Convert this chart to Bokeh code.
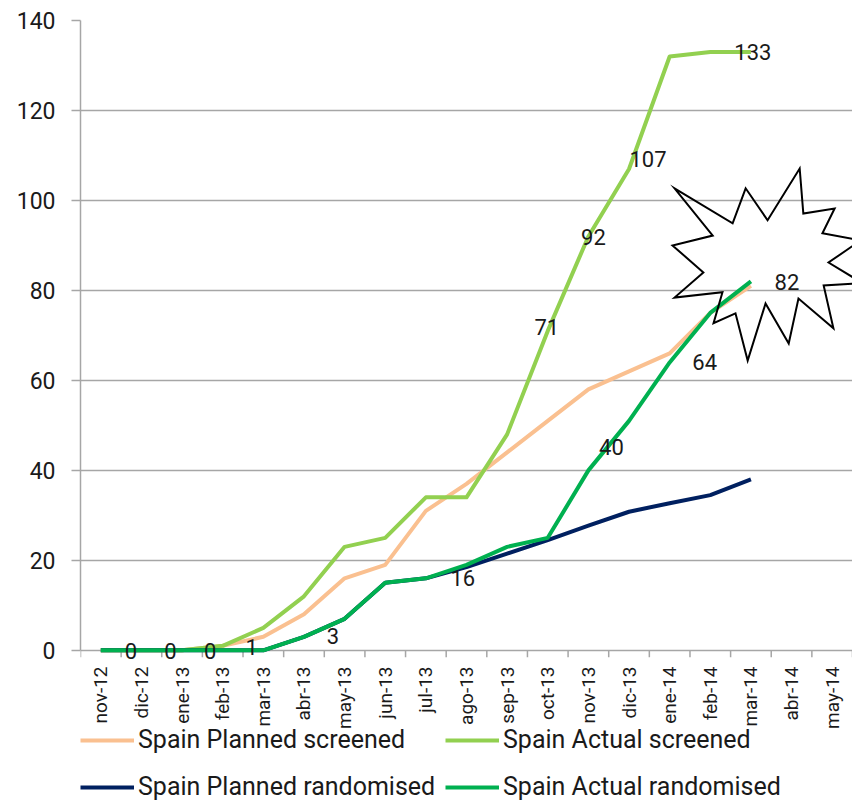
import numpy as np
from bokeh.plotting import figure
from bokeh.layouts import column
from bokeh.models import Range1d, FixedTicker, Legend, LegendItem, ColumnDataSource, LabelSet
from bokeh.core.properties import value
from bokeh.embed import file_html
from bokeh.resources import INLINE

# ---------------- data ----------------
months = ["nov-12", "dic-12", "ene-13", "feb-13", "mar-13", "abr-13", "may-13",
          "jun-13", "jul-13", "ago-13", "sep-13", "oct-13", "nov-13", "dic-13",
          "ene-14", "feb-14", "mar-14", "abr-14", "may-14"]

planned_screened = [0, 0, 0, 1, 3, 8, 16, 19, 31, 37, 44, 51, 58, 62, 66, 75, 81]
actual_screened = [0, 0, 0, 1, 5, 12, 23, 25, 34, 34, 48, 71, 92, 107, 132, 133, 133]
planned_randomised = [0, 0, 0, 0, 0, 3, 7, 15, 16, 18.5, 21.5, 24.5, 27.7, 30.8, 32.7, 34.5, 38]
actual_randomised = [0, 0, 0, 0, 0, 3, 7, 15, 16, 19, 23, 25, 40, 51, 64, 75, 82]

series_names = ["Spain Planned screened", "Spain Actual screened",
                "Spain Planned randomised", "Spain Actual randomised"]

y_ticks = [0, 20, 40, 60, 80, 100, 120, 140]

label_months = ["nov-12", "dic-12", "ene-13", "feb-13", "abr-13", "jul-13", "nov-13",
                "ene-14", "mar-14", "oct-13", "nov-13", "dic-13", "mar-14"]
label_values = [0, 0, 0, 1, 3, 16, 40, 64, 82, 71, 92, 107, 133]

# label offsets (screen px, y up) - styling
label_dx = [30, 29, 28, 29, 29, 37, 23, 35, 36, -1, 5, 19, 2]
label_dy = [-1, -1, -1, -1, 1, 0, 23, 0, -1, 4, -1, 10, 0]

# starburst decoration (category-index units, value units)
star_x = [14.62, 16.05, 16.37, 16.91, 17.70, 17.79, 18.56, 18.26, 19.20, 18.41, 19.25, 18.29,
          18.53, 17.67, 17.43, 16.86, 16.42, 16.12, 15.58, 15.80, 14.62, 15.33, 14.57, 15.56]
star_y = [102.7, 94.9, 102.7, 95.6, 107.1, 97.1, 98.2, 92.7, 91.1, 86.2, 81.6, 81.1,
          71.6, 78.2, 68.2, 77.1, 64.4, 74.9, 72.7, 79.6, 78.4, 84.0, 90.0, 92.2]

# ---------------- style ----------------
FONT = "Roboto"
GRID = "#A6A6A6"
TXT = "#1a1a1a"
COLORS = ["#FAC090", "#92D050", "#002060", "#00B050"]
Y_BOTTOM = -3.6          # frame reaches a little below zero so labels at 0 are not clipped
TICK_LEN = 1.55          # category boundary tick length below the zero line (value units)

p = figure(width=852, height=746, output_backend="svg", toolbar_location=None,
           x_range=Range1d(0, 19), y_range=Range1d(Y_BOTTOM, 140),
           min_border_left=80, min_border_right=0, min_border_top=20,
           min_border_bottom=80)
p.outline_line_color = None
p.background_fill_color = "white"
p.border_fill_alpha = 0

def xs(series):
    return list(np.arange(len(series)) + 0.5)

# category boundary ticks under the zero line
bounds = list(np.arange(len(months) + 1))
p.segment(x0=bounds, y0=[0] * len(bounds), x1=bounds, y1=[-TICK_LEN] * len(bounds),
          line_color=GRID, line_width=1.5)

all_series = [planned_screened, actual_screened, planned_randomised, actual_randomised]
for s, c in zip(all_series, COLORS):
    p.line(xs(s), s, line_color=c, line_width=4, line_join="round")

p.patch(star_x, star_y, fill_alpha=0, line_color="black", line_width=2, line_join="miter")

lab_src = ColumnDataSource(dict(
    x=[months.index(m) + 0.5 for m in label_months],
    y=label_values,
    text=[str(v) for v in label_values],
    dx=label_dx, dy=label_dy))
labels = LabelSet(x="x", y="y", text="text", x_offset="dx", y_offset="dy", source=lab_src,
                  text_font=value(FONT), text_font_size="22px", text_color=TXT,
                  text_align="center", text_baseline="middle")
p.add_layout(labels)

# grid / axes
p.xgrid.visible = False
p.ygrid.ticker = FixedTicker(ticks=y_ticks)
p.ygrid.grid_line_color = GRID
p.ygrid.grid_line_width = 1.5

p.yaxis.ticker = FixedTicker(ticks=y_ticks)
p.yaxis.bounds = (0, 140)
p.yaxis.axis_line_color = GRID
p.yaxis.axis_line_width = 1.5
p.yaxis.major_tick_line_color = GRID
p.yaxis.major_tick_line_width = 1.5
p.yaxis.major_tick_out = 9
p.yaxis.major_tick_in = 0
p.yaxis.minor_tick_line_color = None
p.yaxis.major_label_standoff = 16
p.yaxis.major_label_text_font = FONT
p.yaxis.major_label_text_font_size = "23px"
p.yaxis.major_label_text_color = TXT

p.xaxis.ticker = FixedTicker(ticks=[i + 0.5 for i in range(len(months))])
p.xaxis.major_label_overrides = {i + 0.5: m for i, m in enumerate(months)}
p.xaxis.major_label_orientation = np.pi / 2
p.xaxis.axis_line_color = None
p.xaxis.major_tick_line_color = None
p.xaxis.minor_tick_line_color = None
p.xaxis.major_tick_out = 0
p.xaxis.major_tick_in = 0
p.xaxis.minor_tick_out = 0
p.xaxis.minor_tick_in = 0
p.xaxis.major_label_standoff = 0
p.xaxis.major_label_text_font = FONT
p.xaxis.major_label_text_font_size = "19px"
p.xaxis.major_label_text_color = TXT

# ---------------- legend strip ----------------
leg_fig = figure(width=852, height=82, output_backend="svg", toolbar_location=None,
                 x_axis_type=None, y_axis_type=None,
                 x_range=Range1d(0, 1), y_range=Range1d(0, 1),
                 min_border_left=80, min_border_right=0, min_border_top=0,
                 min_border_bottom=0, margin=(-23, 0, 0, 0))
leg_fig.outline_line_color = None
leg_fig.background_fill_alpha = 0
leg_fig.border_fill_alpha = 0
leg_fig.xgrid.visible = False
leg_fig.ygrid.visible = False
# swatch renderers kept outside the visible range; only their legend glyphs show
dummies = [leg_fig.line([-5, -4], [-5, -5], line_color=c, line_width=4) for c in COLORS]

common = dict(orientation="vertical", spacing=18, glyph_width=54, glyph_height=22,
              label_height=22, label_standoff=4, padding=0, margin=0,
              label_text_font=FONT, label_text_font_size="25px", label_text_color=TXT,
              background_fill_alpha=0, border_line_alpha=0)
legA = Legend(items=[LegendItem(label=series_names[0], renderers=[dummies[0]]),
                     LegendItem(label=series_names[2], renderers=[dummies[2]])],
              location=(0, 4), **common)
legB = Legend(items=[LegendItem(label=series_names[1], renderers=[dummies[1]]),
                     LegendItem(label=series_names[3], renderers=[dummies[3]])],
              location=(365, 4), **common)
leg_fig.add_layout(legA)
leg_fig.add_layout(legB)

layout = column(p, leg_fig, spacing=0)
open("out.html", "w").write(file_html(layout, INLINE))
